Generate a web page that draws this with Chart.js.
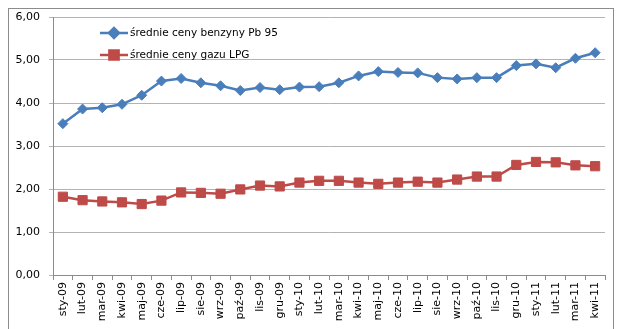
<!DOCTYPE html>
<html>
<head>
<meta charset="utf-8">
<script src="https://cdn.jsdelivr.net/npm/chart.js@4/dist/chart.umd.min.js"></script>
<style>
  html, body { margin: 0; padding: 0; background: #fff; }
  #wrap { width: 624px; height: 329px; }
</style>
</head>
<body>
<div id="wrap"><canvas id="chart" width="624" height="329"></canvas></div>
<script>
const labels = ['sty-09', 'lut-09', 'mar-09', 'kwi-09', 'maj-09', 'cze-09', 'lip-09', 'sie-09', 'wrz-09', 'paź-09', 'lis-09', 'gru-09',
    'sty-10', 'lut-10', 'mar-10', 'kwi-10', 'maj-10', 'cze-10', 'lip-10', 'sie-10', 'wrz-10', 'paź-10', 'lis-10', 'gru-10',
    'sty-11', 'lut-11', 'mar-11', 'kwi-11'];
const benzyna = [3.52, 3.86, 3.89, 3.97, 4.18, 4.51, 4.57, 4.47, 4.40, 4.29, 4.36, 4.31,
    4.37, 4.38, 4.47, 4.63, 4.73, 4.71, 4.70, 4.59, 4.56, 4.59, 4.59, 4.87,
    4.91, 4.82, 5.04, 5.17];
const lpg = [1.82, 1.74, 1.71, 1.69, 1.65, 1.73, 1.92, 1.91, 1.89, 1.99, 2.08, 2.06,
    2.15, 2.19, 2.19, 2.15, 2.12, 2.15, 2.17, 2.15, 2.22, 2.29, 2.29, 2.56,
    2.63, 2.62, 2.55, 2.53];
const seriesNames = ['średnie ceny benzyny Pb 95', 'średnie ceny gazu LPG'];

const BLUE = '#4a7ebb', RED = '#be4b48';
const FONT = '"DejaVu Sans", Verdana, sans-serif';

// frame + legend drawn by hand (Excel style)
const extras = {
    id: 'extras',
    afterDraw(chart) {
        const ctx = chart.ctx;
        ctx.save();
        ctx.strokeStyle = '#8c8c8c';
        ctx.lineWidth = 1;
        ctx.strokeRect(8.5, 8.5, 605, 340);

        const items = [
            { y: 33, color: BLUE, style: 'rectRot', r: 5 },
            { y: 55, color: RED, style: 'rect', r: 6.5 }
        ];
        ctx.font = '10.5px ' + FONT;
        ctx.textBaseline = 'middle';
        items.forEach((it, i) => {
            ctx.strokeStyle = it.color;
            ctx.lineWidth = 2.5;
            ctx.beginPath();
            ctx.moveTo(100, it.y);
            ctx.lineTo(128, it.y);
            ctx.stroke();
            ctx.fillStyle = it.color;
            Chart.helpers.drawPoint(ctx, { pointStyle: it.style, radius: it.r, borderWidth: 1 }, 114, it.y);
            ctx.fill();
            ctx.fillStyle = '#000';
            ctx.fillText(seriesNames[i], 130, it.y);
        });
        ctx.restore();
    }
};

new Chart(document.getElementById('chart'), {
    type: 'line',
    data: {
        labels: labels,
        datasets: [{
            label: seriesNames[0],
            data: benzyna,
            borderColor: BLUE,
            backgroundColor: BLUE,
            borderWidth: 2.5,
            pointStyle: 'rectRot',
            pointRadius: 5,
            pointBorderWidth: 1,
            tension: 0
        }, {
            label: seriesNames[1],
            data: lpg,
            borderColor: RED,
            backgroundColor: RED,
            borderWidth: 2.5,
            pointStyle: 'rect',
            pointRadius: 6.5,
            pointBorderWidth: 1,
            tension: 0
        }]
    },
    options: {
        responsive: false,
        animation: false,
        layout: { padding: { left: 0, right: 19, top: 17, bottom: 0 } },
        plugins: { legend: { display: false }, tooltip: { enabled: false } },
        scales: {
            x: {
                offset: true,
                grid: { drawOnChartArea: false, offset: true, tickLength: 5, color: '#8c8c8c' },
                border: { color: '#8c8c8c' },
                ticks: { minRotation: 90, maxRotation: 90, autoSkip: false, color: '#000', padding: 2,
                    font: { family: FONT, size: 11 } },
                afterFit(s) { s.height = 54; }
            },
            y: {
                min: 0, max: 6,
                grid: { color: '#b3b3b3', tickLength: 4 },
                border: { color: '#8c8c8c' },
                ticks: { stepSize: 1, color: '#000', padding: 9,
                    font: { family: FONT, size: 11 },
                    callback: v => v.toFixed(2).replace('.', ',') },
                afterFit(s) { s.width = 53; }
            }
        }
    },
    plugins: [extras]
});
</script>
</body>
</html>
